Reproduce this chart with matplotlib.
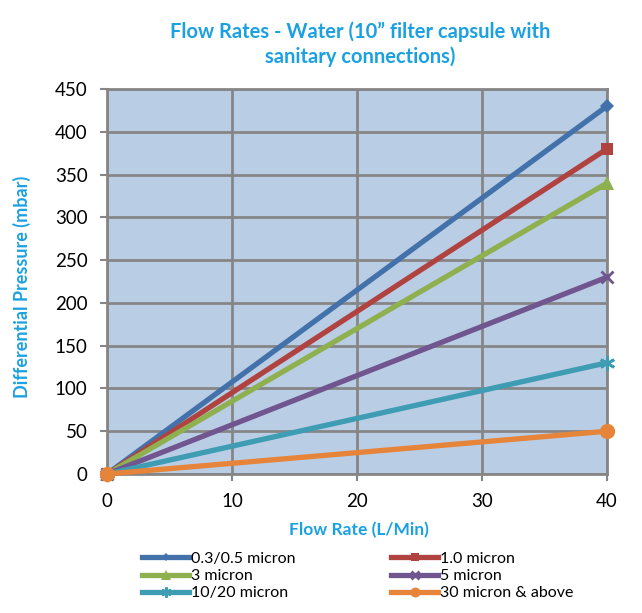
import matplotlib
matplotlib.use("Agg")
import matplotlib.pyplot as plt

flow = [0, 40]
series_names = ["0.3/0.5 micron", "1.0 micron", "3 micron", "5 micron", "10/20 micron", "30 micron & above"]
pressures = [
    [0, 430],
    [0, 380],
    [0, 340],
    [0, 230],
    [0, 130],
    [0, 50],
]
colors = ["#4372AB", "#B0423F", "#8FB04F", "#71558F", "#3E9CB3", "#E6843A"]
markers = ["D", "s", "^", "x", (6, 2, 0), "o"]
msizes = [7, 9, 10, 9, 11, 11]

plt.rcParams['font.family'] = ['Lato', 'DejaVu Sans']

fig = plt.figure(figsize=(6.42, 6.13), dpi=100)
ax = fig.add_axes([107/642, 1-474/613, 500/642, 385/613])
ax.set_facecolor("#B9CDE5")

handles = []
for name, vals, c, m, ms in zip(series_names, pressures, colors, markers, msizes):
    lw_m = 2 if (m == "x" or isinstance(m, tuple)) else 0
    h, = ax.plot(flow, vals, color=c, lw=3.8, marker=m, ms=ms, mew=lw_m,
                 mec=c, mfc=c, label=name, clip_on=False, zorder=3)
    handles.append(h)

ax.set_xlim(0, 40)
ax.set_ylim(0, 450)
ax.set_xticks([0, 10, 20, 30, 40])
ax.set_yticks(range(0, 451, 50))
ax.grid(True, color="#868686", lw=2)
ax.set_axisbelow(True)
for s in ax.spines.values():
    s.set_color("#868686")
    s.set_linewidth(2)
ax.tick_params(axis='both', labelsize=13.5, color="#868686", width=1.5, length=5)
ax.tick_params(axis='y', pad=9)
ax.tick_params(axis='x', pad=9)

label_color = "#1BA1E2"
ax.set_xlabel("Flow Rate (L/Min)", color=label_color, fontsize=12.5, fontweight="bold", va="center")
ax.xaxis.set_label_coords((359-107)/500, (474-530)/385)
ax.set_ylabel("Differential Pressure (mbar)", color=label_color, fontsize=13, fontweight="bold", va="center")
ax.yaxis.set_label_coords((22-107)/500, (474-286.5)/385)

fig.text(360/642, 1-44/613, "Flow Rates - Water (10\u201d filter capsule with\nsanitary connections)",
         ha="center", va="center", color=label_color, fontsize=14.5, fontweight="bold", linespacing=1.3)

order = [0, 2, 4, 1, 3, 5]
leg = fig.legend([handles[i] for i in order], [series_names[i] for i in order],
                 ncol=2, loc="center left", bbox_to_anchor=(128/642, 1-576/613),
                 frameon=False, fontsize=11.5, handlelength=2.9, columnspacing=6.0,
                 labelspacing=0.2, handletextpad=0.15, markerscale=0.65)

fig.savefig("out.png", dpi=100)
